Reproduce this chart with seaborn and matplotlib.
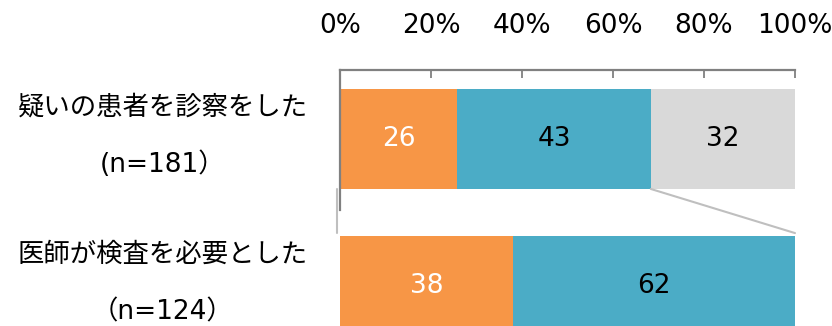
import matplotlib
matplotlib.use("Agg")
import matplotlib.pyplot as plt
import matplotlib.transforms as mtransforms
import seaborn as sns
import pandas as pd

# Data
group_titles = ["疑いの患者を診察をした", "医師が検査を必要とした"]
group_counts = ["(n=181）", "（n=124）"]
top_values = [26, 43, 32]
bottom_values = [38, 62]
segment_colors = ["#F79646", "#4BACC6", "#D9D9D9"]
label_colors = ["white", "black", "black"]
tick_values = [0, 20, 40, 60, 80, 100]
tick_labels = ["0%", "20%", "40%", "60%", "80%", "100%"]

sns.set_theme(style="white")
plt.rcParams["font.family"] = ["DejaVu Sans", "Noto Sans CJK JP"]

# Long table: each segment as a share of its bar (100% stacked)
rows = []
for g, vals in zip(group_titles, [top_values, bottom_values]):
    total = float(sum(vals))
    cum = 0.0
    for i, v in enumerate(vals):
        pct = v / total * 100
        rows.append(dict(group=g, seg=i, value=v, start=cum, end=cum + pct))
        cum += pct
df = pd.DataFrame(rows)

fig = plt.figure(figsize=(8.32, 3.26), dpi=100)
W, H = 832, 326
ax_left, ax_right, ax_top, ax_bottom = 340, 795, 70, 355
ax = fig.add_axes([ax_left / W, (H - ax_bottom) / H,
                   (ax_right - ax_left) / W, (ax_bottom - ax_top) / H])

bar_w = 0.68
# Draw cumulative bars from the last segment to the first so they stack
for i in reversed(range(len(segment_colors))):
    sub = df[df.seg == i]
    if sub.empty:
        continue
    sns.barplot(data=sub, x="end", y="group", order=group_titles, orient="h",
                color=segment_colors[i], saturation=1, width=bar_w,
                linewidth=0, ax=ax)

# Value labels inside the segments
for _, r in df.iterrows():
    yi = group_titles.index(r.group)
    ax.text((r.start + r.end) / 2, yi, str(r.value), ha="center", va="center",
            color=label_colors[r.seg], fontsize=19)

ax.set_xlim(0, 100)
pad_y = 0.129
ax.set_ylim(1 + bar_w / 2 + pad_y, -bar_w / 2 - pad_y)

# Percentage scale along the top
axis_color = "#808080"
ax.xaxis.tick_top()
ax.set_xticks(tick_values)
ax.set_xticklabels(tick_labels)
ax.set_xlabel("")
ax.set_ylabel("")
ax.tick_params(axis="x", direction="in", length=6, width=1.3, color=axis_color,
               pad=22, labelsize=19, labelcolor="black", top=True, bottom=False)
ax.set_yticks([])

for s in ["bottom", "right"]:
    ax.spines[s].set_visible(False)
for s in ["top", "left"]:
    ax.spines[s].set_color(axis_color)
    ax.spines[s].set_linewidth(1.6)
ax.spines["left"].set_bounds(-bar_w / 2 - pad_y, 0.48)

# Category labels: title line above, sample size line below
label_x = 163 / W
for yi, (title, count) in enumerate(zip(group_titles, group_counts)):
    base = mtransforms.blended_transform_factory(fig.transFigure, ax.transData)
    t1 = mtransforms.offset_copy(base, fig=fig, x=0, y=31, units="dots")
    t2 = mtransforms.offset_copy(base, fig=fig, x=0, y=-26, units="dots")
    ax.text(label_x, yi, title, transform=t1, ha="center", va="center",
            fontsize=19, color="black", clip_on=False)
    ax.text(label_x, yi, count, transform=t2, ha="center", va="center",
            fontsize=19, color="black", clip_on=False)

# Lines linking the top bar's first two segments to the breakdown bar
top_blue_end = df[(df.group == group_titles[0]) & (df.seg == 1)].end.iloc[0]
line_color = "#BFBFBF"
ax.plot([top_blue_end, 100], [bar_w / 2, 1 - bar_w / 2 - 0.02],
        color=line_color, lw=1.5, clip_on=False)
left_shift = mtransforms.offset_copy(ax.transData, fig=fig, x=-3, y=0, units="dots")
ax.plot([0, 0], [bar_w / 2, 1 - bar_w / 2 - 0.02], color=line_color, lw=1.5,
        clip_on=False, transform=left_shift)

fig.savefig("out.png", dpi=100)
